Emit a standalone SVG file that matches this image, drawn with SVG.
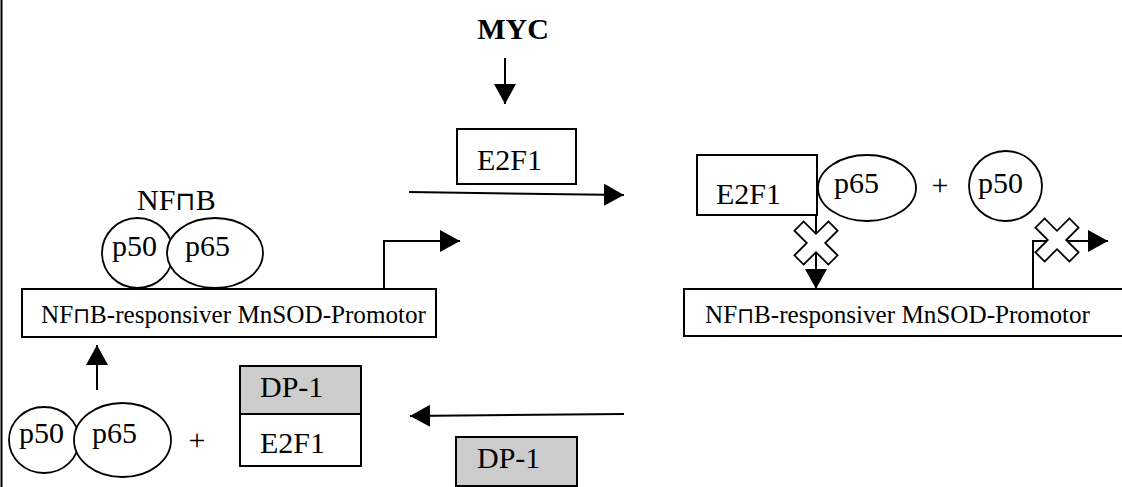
<svg xmlns="http://www.w3.org/2000/svg" width="1122" height="487" viewBox="0 0 1122 487">
<style>
  .lbl { font-size: 30px; fill: #000; }
  .prom { font-size: 25.5px; fill: #000; }
  .box { fill: #fff; stroke: #000; stroke-width: 2; }
  .gray { fill: #cccccc; stroke: #000; stroke-width: 2; }
  .ell { fill: #fff; stroke: #000; stroke-width: 1.8; }
  .line { fill: none; stroke: #000; stroke-width: 2; }
  .cross { fill: #fff; stroke: #000; stroke-width: 1.8; }
</style>
<defs>
  <marker id="ah" markerUnits="userSpaceOnUse" markerWidth="22" markerHeight="24" refX="20" refY="11" orient="auto">
    <path d="M0,0 L20,11 L0,22 Z" fill="#000"/>
  </marker>
  <polygon id="x" points="-6.5,-24 6.5,-24 6.5,-6.5 24,-6.5 24,6.5 6.5,6.5 6.5,24 -6.5,24 -6.5,6.5 -24,6.5 -24,-6.5 -6.5,-6.5" transform="rotate(45)"/>
</defs>

<line x1="1.5" y1="0" x2="1.5" y2="487" stroke="#000" stroke-width="2"/>

<g font-family="Liberation Serif">
<g id="myc"><text class="lbl" font-weight="bold" x="513" y="39" text-anchor="middle">MYC</text></g>

<g id="e2f1-top">
  <rect class="box" x="457" y="129" width="119" height="55"/>
  <text class="lbl" x="477" y="170">E2F1</text>
</g>

<g id="nfkb-bound">
  <text class="lbl" x="137" y="210">NF<tspan font-family="DejaVu Sans" font-size="26">⊓</tspan>B</text>
  <ellipse class="ell" cx="137.5" cy="253" rx="35.5" ry="35"/>
  <ellipse class="ell" cx="215" cy="253" rx="48" ry="35"/>
  <text class="lbl" x="112" y="256">p50</text>
  <text class="lbl" x="185" y="256">p65</text>
</g>

<g id="promoter-left">
  <rect class="box" x="22" y="289" width="414" height="48"/>
  <text class="prom" x="41" y="323" textLength="385" lengthAdjust="spacingAndGlyphs">NF<tspan font-family="DejaVu Sans" font-size="22">⊓</tspan>B-responsiver MnSOD-Promotor</text>
</g>

<g id="e2f1-right">
  <rect class="box" x="697" y="155" width="120" height="60"/>
  <text class="lbl" x="716" y="204">E2F1</text>
</g>
<g id="p65-right">
  <ellipse class="ell" cx="867" cy="188" rx="49" ry="33"/>
  <text class="lbl" x="834" y="193">p65</text>
</g>
<g id="plus-right"><text class="lbl" x="940" y="195" text-anchor="middle">+</text></g>
<g id="p50-right">
  <ellipse class="ell" cx="1005.5" cy="186" rx="36.5" ry="35"/>
  <text class="lbl" x="978" y="193">p50</text>
</g>

<g id="promoter-right">
  <rect class="box" x="684" y="289" width="439" height="47"/>
  <text class="prom" x="705" y="323" textLength="385" lengthAdjust="spacingAndGlyphs">NF<tspan font-family="DejaVu Sans" font-size="22">⊓</tspan>B-responsiver MnSOD-Promotor</text>
</g>

<g id="nfkb-free">
  <ellipse class="ell" cx="44" cy="440" rx="35" ry="33"/>
  <ellipse class="ell" cx="122.5" cy="440" rx="48.5" ry="37"/>
  <text class="lbl" x="19" y="443">p50</text>
  <text class="lbl" x="92" y="443">p65</text>
</g>
<g id="plus-left"><text class="lbl" x="197" y="450" text-anchor="middle">+</text></g>

<g id="dp1-e2f1">
  <rect class="gray" x="240" y="366" width="121" height="48"/>
  <rect class="box" x="240" y="414" width="121" height="52"/>
  <text class="lbl" x="260" y="397">DP-1</text>
  <text class="lbl" x="260" y="453">E2F1</text>
</g>

<g id="dp1-bottom">
  <rect class="gray" x="456" y="437" width="121" height="49"/>
  <text class="lbl" x="477" y="468">DP-1</text>
</g>
</g>

<g id="connectors">
  <line class="line" x1="505" y1="58" x2="505" y2="104" marker-end="url(#ah)"/>
  <line class="line" x1="409" y1="192" x2="624" y2="195" marker-end="url(#ah)"/>
  <polyline class="line" points="384,289 384,241 460,241" marker-end="url(#ah)"/>
  <line class="line" x1="97" y1="390" x2="97" y2="345" marker-end="url(#ah)"/>
  <line class="line" x1="624" y1="414" x2="410" y2="416" marker-end="url(#ah)"/>
  <line class="line" x1="816" y1="215" x2="816" y2="289" marker-end="url(#ah)"/>
  <polyline class="line" points="1033,289 1033,241 1108,241" marker-end="url(#ah)"/>
  <use href="#x" class="cross" transform="translate(816,243)"/>
  <use href="#x" class="cross" transform="translate(1057,240)"/>
</g>
</svg>
